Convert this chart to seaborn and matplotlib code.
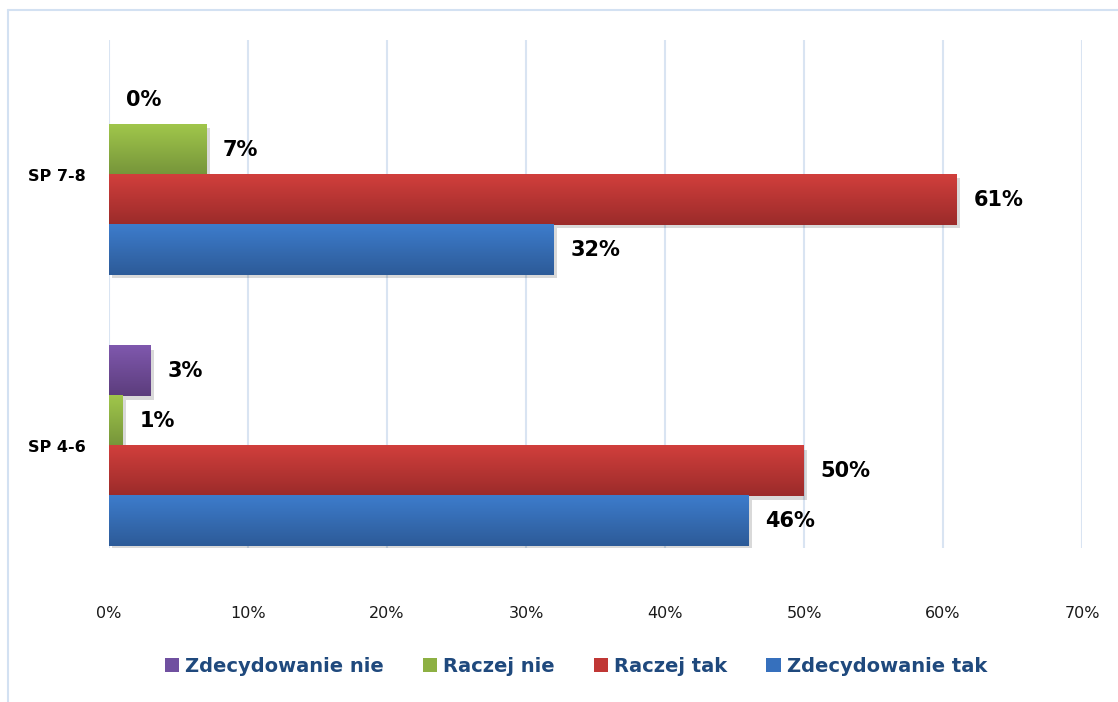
import numpy as np
import pandas as pd
import matplotlib
matplotlib.use("Agg")
import matplotlib.pyplot as plt
import matplotlib.patheffects as pe
from matplotlib.patches import Patch
from matplotlib.lines import Line2D
from matplotlib.ticker import FuncFormatter
import seaborn as sns

# Survey answers per school level (percent of respondents)
categories = ["SP 7-8", "SP 4-6"]
answers = ["Zdecydowanie nie", "Raczej nie", "Raczej tak", "Zdecydowanie tak"]
zdecydowanie_nie = [0, 3]
raczej_nie = [7, 1]
raczej_tak = [61, 50]
zdecydowanie_tak = [32, 46]
x_ticks = [0, 10, 20, 30, 40, 50, 60, 70]

# Bar colours: solid, plus top/bottom shades for the vertical gradient
base_colors = ["#7050a0", "#8db043", "#c03735", "#3670bd"]
top_colors = ["#7f58ae", "#a0c64b", "#d13f3c", "#3d7ccc"]
bottom_colors = ["#5c3d7c", "#76953a", "#9b2b2a", "#2d5b98"]

df = pd.DataFrame({
    "grupa": categories * 4,
    "odpowiedz": np.repeat(answers, len(categories)),
    "procent": zdecydowanie_nie + raczej_nie + raczej_tak + zdecydowanie_tak,
})

sns.set_theme(style="white")
plt.rcParams["font.family"] = ["DejaVu Sans"]

fig = plt.figure(figsize=(11.18, 7.02), dpi=100)
ax = fig.add_axes([0.0975, 0.2194, 0.8703, 0.7236])

sns.barplot(
    data=df, y="grupa", x="procent", hue="odpowiedz",
    order=categories, hue_order=answers, palette=base_colors,
    orient="h", width=0.738, errorbar=None, ax=ax, legend=False,
    saturation=1.0,
)

# Gradient fill and soft shadow on each bar
for i, cont in enumerate(ax.containers):
    grad = np.linspace(0, 1, 64)[:, None]
    c0 = np.array(matplotlib.colors.to_rgb(top_colors[i]))
    c1 = np.array(matplotlib.colors.to_rgb(bottom_colors[i]))
    img = (c0[None, None, :] * (1 - grad[..., None]) + c1[None, None, :] * grad[..., None])
    for bar in cont:
        bar.set_edgecolor("none")
        x0, y0 = bar.get_x(), bar.get_y()
        w, h = bar.get_width(), bar.get_height()
        if w <= 0:
            continue
        bar.set_path_effects([
            pe.SimplePatchShadow(offset=(2.5, -2.5), shadow_rgbFace="#000000", alpha=0.15),
            pe.Normal(),
        ])
        ax.imshow(img, extent=(x0, x0 + w, y0 + h, y0), aspect="auto",
                  origin="upper", zorder=bar.get_zorder() + 0.1, interpolation="bilinear")

# Value labels
for cont in ax.containers:
    ax.bar_label(cont, labels=[f"{v:.0f}%" for v in cont.datavalues],
                 padding=12, fontsize=15, fontweight="bold", color="black")

ax.set_xlim(0, 70)
ax.set_ylim(1.376, -0.498)
ax.set_xticks(x_ticks)
ax.xaxis.set_major_formatter(FuncFormatter(lambda v, p: f"{v:.0f}%"))
ax.tick_params(axis="x", length=0, pad=42, labelsize=11.5, labelcolor="#1a1a1a")
ax.tick_params(axis="y", length=0, pad=17, labelsize=11.5, labelcolor="black")
for lab in ax.get_yticklabels():
    lab.set_fontweight("bold")
ax.set_xlabel("")
ax.set_ylabel("")
ax.grid(axis="x", color="#d9e4f2", linewidth=1.5)
ax.grid(axis="y", visible=False)
ax.set_axisbelow(True)
for s in ax.spines.values():
    s.set_visible(False)

# Legend below the plot
handles = [Patch(facecolor=c, edgecolor="none") for c in base_colors]
leg = fig.legend(handles, answers, loc="center", bbox_to_anchor=(0.515, 0.051),
                 ncol=4, frameon=False, fontsize=14, handlelength=0.75,
                 handleheight=0.75, handletextpad=0.3, columnspacing=2.0)
for t in leg.get_texts():
    t.set_color("#1f497d")
    t.set_fontweight("bold")

# Light chart-area border along the top and left
border_color = "#d3e1f2"
fig.add_artist(Line2D([0.00716, 1.0], [0.9858, 0.9858], transform=fig.transFigure,
                      color=border_color, linewidth=1.5))
fig.add_artist(Line2D([0.00716, 0.00716], [0.0, 0.9858], transform=fig.transFigure,
                      color=border_color, linewidth=1.5))

fig.savefig("out.png", dpi=100, facecolor="white")
